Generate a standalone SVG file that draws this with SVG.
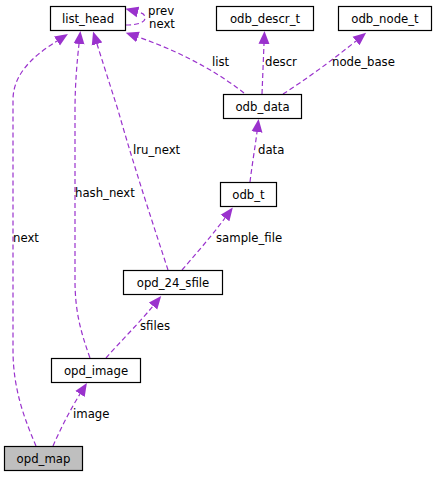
<svg xmlns="http://www.w3.org/2000/svg" width="437" height="477" viewBox="0 0 437 477">
<style>
text{font-family:"DejaVu Sans","Liberation Sans",sans-serif;font-size:11.7px;fill:#000}
.n rect{fill:#fff;stroke:#000;stroke-width:1.2}
.n text{text-anchor:middle}
.e path{fill:none;stroke:#9a32cd;stroke-width:1.2;stroke-dasharray:5,3}
</style>
<defs>
<marker id="ah" markerUnits="userSpaceOnUse" markerWidth="14" markerHeight="12" refX="0" refY="6" orient="auto">
<path d="M0,0.5 L13,6 L0,11.5 z" fill="#9a32cd"/>
</marker>
</defs>
<rect width="437" height="477" fill="#fff"/>
<g id="edges" class="e">
<path d="M90,358 C80,330 75,310 75,280 L75,110 C75,85 77,62 79,44" marker-end="url(#ah)"/>
<path d="M168,270 C155,230 135,170 118,110 C110,85 103,63 97,44" marker-end="url(#ah)"/>
<path d="M36,446 C25,420 13,390 13,350 L13,100 C13,70 40,52 57,41" marker-end="url(#ah)"/>
<path d="M244,93 C225,78 190,55 138,37" marker-end="url(#ah)"/>
<path d="M126,25 C136,25 145,23 145,18 C145,14 142,13 138,12" marker-end="url(#ah)"/>
<path d="M262,94 L264,44" marker-end="url(#ah)"/>
<path d="M283,94 C305,80 330,62 356,41" marker-end="url(#ah)"/>
<path d="M250,182 C252,165 255,148 257,132" marker-end="url(#ah)"/>
<path d="M182,270 C195,255 210,238 225,218" marker-end="url(#ah)"/>
<path d="M106,358 C120,342 140,322 153,306" marker-end="url(#ah)"/>
<path d="M53,446 C60,430 70,410 80,394" marker-end="url(#ah)"/>
</g>
<g id="edge-labels">
<text x="148" y="15">prev</text>
<text x="149" y="28">next</text>
<text x="212" y="66">list</text>
<text x="265" y="66">descr</text>
<text x="332" y="66">node_base</text>
<text x="133" y="154">lru_next</text>
<text x="258" y="154">data</text>
<text x="75" y="197">hash_next</text>
<text x="13" y="242">next</text>
<text x="216" y="242">sample_file</text>
<text x="140" y="330">sfiles</text>
<text x="73" y="418">image</text>
</g>
<g id="list_head" class="n"><rect x="50.5" y="6.5" width="75" height="24"/><text x="88" y="22.5">list_head</text></g>
<g id="odb_descr_t" class="n"><rect x="216.5" y="6.5" width="97" height="24"/><text x="265" y="22.5">odb_descr_t</text></g>
<g id="odb_node_t" class="n"><rect x="338.5" y="6.5" width="93" height="24"/><text x="385" y="22.5">odb_node_t</text></g>
<g id="odb_data" class="n"><rect x="223.5" y="94.5" width="78" height="24"/><text x="262.5" y="110.5">odb_data</text></g>
<g id="odb_t" class="n"><rect x="220.5" y="182.5" width="56" height="24"/><text x="248.5" y="198.5">odb_t</text></g>
<g id="opd_24_sfile" class="n"><rect x="123.5" y="270.5" width="99" height="24"/><text x="173" y="286.5">opd_24_sfile</text></g>
<g id="opd_image" class="n"><rect x="51.5" y="358.5" width="89" height="24"/><text x="96" y="374.5">opd_image</text></g>
<g id="opd_map" class="n"><rect x="4.5" y="446.5" width="78" height="24" style="fill:#bfbfbf"/><text x="43.5" y="462.5">opd_map</text></g>
</svg>
